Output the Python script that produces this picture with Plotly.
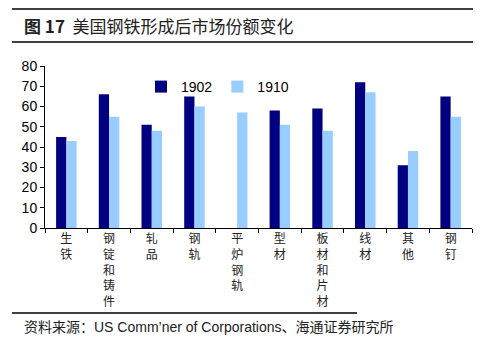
import plotly.graph_objects as go

categories = ["生铁", "钢锭和铸件", "轧品", "钢轨", "平炉钢轨", "型材", "板材和片材", "线材", "其他", "钢钉"]
v1902 = [45, 66, 51, 65, None, 58, 59, 72, 31, 65]
v1910 = [43, 55, 48, 60, 57, 51, 48, 67, 38, 55]
yticks = [0, 10, 20, 30, 40, 50, 60, 70, 80]

ticktext = ["<br>".join(list(c)) for c in categories]

W, H = 493, 342
L, R, T, B = 45, 21, 66, 114
pw, ph = W - L - R, H - T - B

def px(x):
    return (x - L) / pw

def py(y):
    return (H - B - y) / ph

fig = go.Figure()
fig.add_bar(x=categories, y=v1902, name="1902", marker_color="#000080", marker_line_width=0)
fig.add_bar(x=categories, y=v1910, name="1910", marker_color="#99CCFF", marker_line_width=0)

fig.update_layout(
    width=W, height=H,
    margin=dict(l=L, r=R, t=T, b=B),
    paper_bgcolor="white", plot_bgcolor="white",
    barmode="group", bargap=0.52, bargroupgap=0,
    font=dict(family="Arial, Liberation Sans, Noto Sans CJK SC", color="#000000"),
    legend=dict(orientation="h", x=px(141), y=py(71), xanchor="left", yanchor="top",
                font=dict(size=14), bgcolor="rgba(0,0,0,0)", itemwidth=30,
                traceorder="normal"),
    showlegend=True,
)
fig.update_xaxes(
    tickmode="array", tickvals=categories, ticktext=ticktext,
    tickfont=dict(size=12, family="Noto Sans CJK SC", color="#222222"),
    showline=True, linecolor="#000000", linewidth=1,
    ticks="outside", ticklen=4, tickcolor="#000000", tickson="boundaries",
    showgrid=False,
)
fig.update_yaxes(
    range=[0, 80], tickvals=yticks,
    tickfont=dict(size=14),
    showline=True, linecolor="#000000", linewidth=1,
    ticks="outside", ticklen=4, tickcolor="#000000",
    showgrid=False, zeroline=False,
)

# decorative lines
for yy, x1 in [(9, 473), (42, 473), (313, 357)]:
    fig.add_shape(type="line", xref="paper", yref="paper",
                  x0=px(12), x1=px(x1), y0=py(yy), y1=py(yy),
                  line=dict(color="#000000", width=1.5))

fig.add_annotation(xref="paper", yref="paper", x=px(22), y=py(25),
                   xanchor="left", yanchor="middle", showarrow=False,
                   text="<b>图 17</b>  美国钢铁形成后市场份额变化",
                   font=dict(size=17, family="Noto Sans CJK SC", color="#222222"))
fig.add_annotation(xref="paper", yref="paper", x=px(22), y=py(327),
                   xanchor="left", yanchor="middle", showarrow=False,
                   text="资料来源：US Comm’ner of Corporations、海通证券研究所",
                   font=dict(size=14, family="Arial, Noto Sans CJK SC", color="#222222"))

fig.write_html("out.html")
